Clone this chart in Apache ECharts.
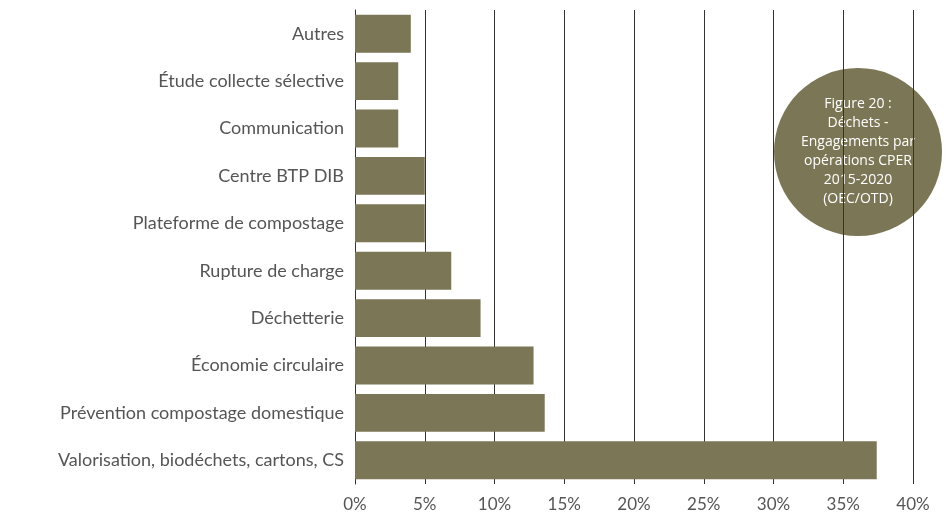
<!DOCTYPE html>
<html>
<head>
<meta charset="utf-8">
<style>html,body{margin:0;background:#fff}#chart{width:952px;height:521px}</style>
</head>
<body>
<div id="chart"></div>
<script src="https://cdn.jsdelivr.net/npm/echarts@6/dist/echarts.min.js"></script>
<script>
var categories = ['Valorisation, biodéchets, cartons, CS', 'Prévention compostage domestique', 'Économie circulaire',
  'Déchetterie', 'Rupture de charge', 'Plateforme de compostage', 'Centre BTP DIB',
  'Communication', 'Étude collecte sélective', 'Autres'];
var shares = [37.4, 13.6, 12.8, 9.0, 6.9, 5.0, 5.0, 3.1, 3.1, 4.0];
var ticks = [0, 5, 10, 15, 20, 25, 30, 35, 40];

var chart = echarts.init(document.getElementById('chart'));
chart.setOption({
  textStyle: { fontFamily: 'Lato' },
  grid: { left: 355, right: 39, top: 10, bottom: 37 },
  xAxis: {
    type: 'value', min: ticks[0], max: ticks[ticks.length - 1], interval: 5,
    axisLabel: { formatter: '{value}%', color: '#555', fontSize: 17, margin: 12 },
    axisLine: { show: false }, axisTick: { show: false },
    splitLine: { lineStyle: { color: '#333', width: 1 } }
  },
  yAxis: {
    type: 'category', data: categories,
    axisLabel: { color: '#555', fontSize: 18, margin: 11 },
    axisLine: { lineStyle: { color: '#333' } }, axisTick: { show: false }
  },
  series: [{
    type: 'bar', data: shares, barCategoryGap: '20%',
    itemStyle: { color: '#7b7655' }
  }],
  graphic: [{
    type: 'group', left: 774, top: 68,
    children: [
      { type: 'circle', shape: { cx: 84, cy: 84, r: 84 }, style: { fill: '#7b7655' } },
      { type: 'text', x: 84, y: 84, style: {
        text: 'Figure 20 :\nDéchets -\nEngagements par\nopérations CPER\n2015-2020\n(OEC/OTD)',
        fill: '#fff', font: '14px "Liberation Sans Narrow", "Open Sans"', lineHeight: 19,
        align: 'center', verticalAlign: 'middle' } }
    ]
  }]
});
</script>
</body>
</html>
